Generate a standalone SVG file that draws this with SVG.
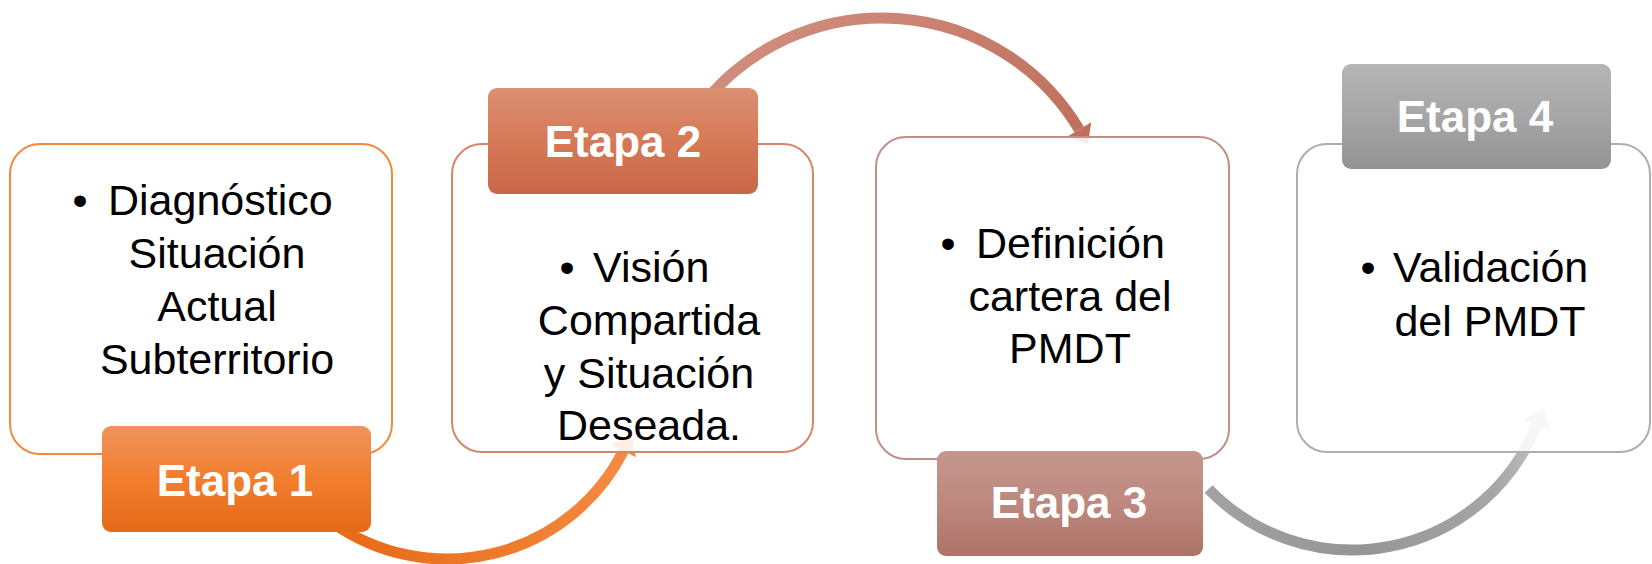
<svg xmlns="http://www.w3.org/2000/svg" width="1652" height="564" viewBox="0 0 1652 564">
<defs>
<style>
.box{stroke-width:2;fill:#fff;fill-opacity:0.86}
.txt{font-family:"Liberation Sans",Arial,sans-serif;font-size:43px;fill:#000}
.mid{text-anchor:middle}
.lbl{font-family:"Liberation Sans",Arial,sans-serif;font-size:44px;font-weight:bold;fill:#fff;text-anchor:middle}
.arc{fill:none;stroke-width:11}
</style>
<linearGradient id="g1" x1="0" y1="0" x2="0" y2="1"><stop offset="0" stop-color="#F1935C"/><stop offset="0.5" stop-color="#F27E2E"/><stop offset="1" stop-color="#E46A18"/></linearGradient>
<linearGradient id="g2" x1="0" y1="0" x2="0" y2="1"><stop offset="0" stop-color="#DA8F74"/><stop offset="0.5" stop-color="#D67956"/><stop offset="1" stop-color="#C8674A"/></linearGradient>
<linearGradient id="g3" x1="0" y1="0" x2="0" y2="1"><stop offset="0" stop-color="#C4968E"/><stop offset="0.5" stop-color="#BD887E"/><stop offset="1" stop-color="#AD7368"/></linearGradient>
<linearGradient id="g4" x1="0" y1="0" x2="0" y2="1"><stop offset="0" stop-color="#B5B5B5"/><stop offset="0.5" stop-color="#A6A6A6"/><stop offset="1" stop-color="#939393"/></linearGradient>
<linearGradient id="a1" gradientUnits="userSpaceOnUse" x1="333" y1="540" x2="630" y2="440"><stop offset="0" stop-color="#E76A18"/><stop offset="0.5" stop-color="#EE7B2B"/><stop offset="1" stop-color="#F58C45"/></linearGradient>
<linearGradient id="a2" gradientUnits="userSpaceOnUse" x1="706" y1="60" x2="1085" y2="140"><stop offset="0" stop-color="#D08E7E"/><stop offset="0.5" stop-color="#CB8473"/><stop offset="1" stop-color="#C06F5D"/></linearGradient>
<linearGradient id="a4" gradientUnits="userSpaceOnUse" x1="1209" y1="0" x2="1545" y2="0"><stop offset="0" stop-color="#A2A2A2"/><stop offset="0.45" stop-color="#959595"/><stop offset="0.85" stop-color="#A6A6A6"/><stop offset="1" stop-color="#C4C4C4"/></linearGradient>
</defs>
<g id="connectors">
<path class="arc" stroke="url(#a1)" d="M 333.4 523.2 A 198 198 0 0 0 623.4 450.9"/>
<polygon fill="#F58C45" points="631.1,435.8 635.9,457.3 610.9,444.5"/>
<path class="arc" stroke="url(#a2)" d="M 705.8 100.2 A 230 230 0 0 1 1079.2 129.5"/>
<polygon fill="#C06F5D" points="1088,144.1 1091.2,122.3 1067.2,136.7"/>
<path class="arc" stroke="url(#a4)" d="M 1208.6 489 A 199 199 0 0 0 1536.5 425.5"/>
<polygon fill="#C8C8C8" points="1543.6,407.9 1549.9,430.9 1523.1,420.1"/>
</g>
<g id="etapa1">
<rect class="box" x="10" y="144" width="382" height="310" rx="30" stroke="#F08A3E"/>
<text class="txt mid" x="80" y="215">•</text>
<text class="txt" x="108" y="215">Diagnóstico</text>
<text class="txt mid" x="217" y="268">Situación</text>
<text class="txt mid" x="217" y="321">Actual</text>
<text class="txt mid" x="217" y="374">Subterritorio</text>
<rect x="102" y="426" width="269" height="106" rx="9" fill="url(#g1)"/>
<text class="lbl" x="235" y="496">Etapa 1</text>
</g>
<g id="etapa2">
<rect class="box" x="452" y="144" width="361" height="308" rx="30" stroke="#D6856C"/>
<text class="txt mid" x="567" y="282">•</text>
<text class="txt" x="593" y="282">Visión</text>
<text class="txt mid" x="649" y="335">Compartida</text>
<text class="txt mid" x="649" y="388">y Situación</text>
<text class="txt mid" x="649" y="440">Deseada.</text>
<rect x="488" y="88" width="270" height="106" rx="9" fill="url(#g2)"/>
<text class="lbl" x="623" y="157">Etapa 2</text>
</g>
<g id="etapa3">
<rect class="box" x="876" y="137" width="353" height="322" rx="30" stroke="#C09088"/>
<text class="txt mid" x="948" y="258">•</text>
<text class="txt" x="976" y="258">Definición</text>
<text class="txt mid" x="1070" y="311">cartera del</text>
<text class="txt mid" x="1070" y="363">PMDT</text>
<rect x="937" y="451" width="266" height="105" rx="9" fill="url(#g3)"/>
<text class="lbl" x="1069" y="518">Etapa 3</text>
</g>
<g id="etapa4">
<rect class="box" x="1297" y="144" width="353" height="308" rx="30" stroke="#AEAEAE"/>
<text class="txt mid" x="1368" y="282">•</text>
<text class="txt" x="1393" y="282">Validación</text>
<text class="txt mid" x="1490" y="336">del PMDT</text>
<rect x="1342" y="64" width="269" height="105" rx="9" fill="url(#g4)"/>
<text class="lbl" x="1475" y="132">Etapa 4</text>
</g>
</svg>
